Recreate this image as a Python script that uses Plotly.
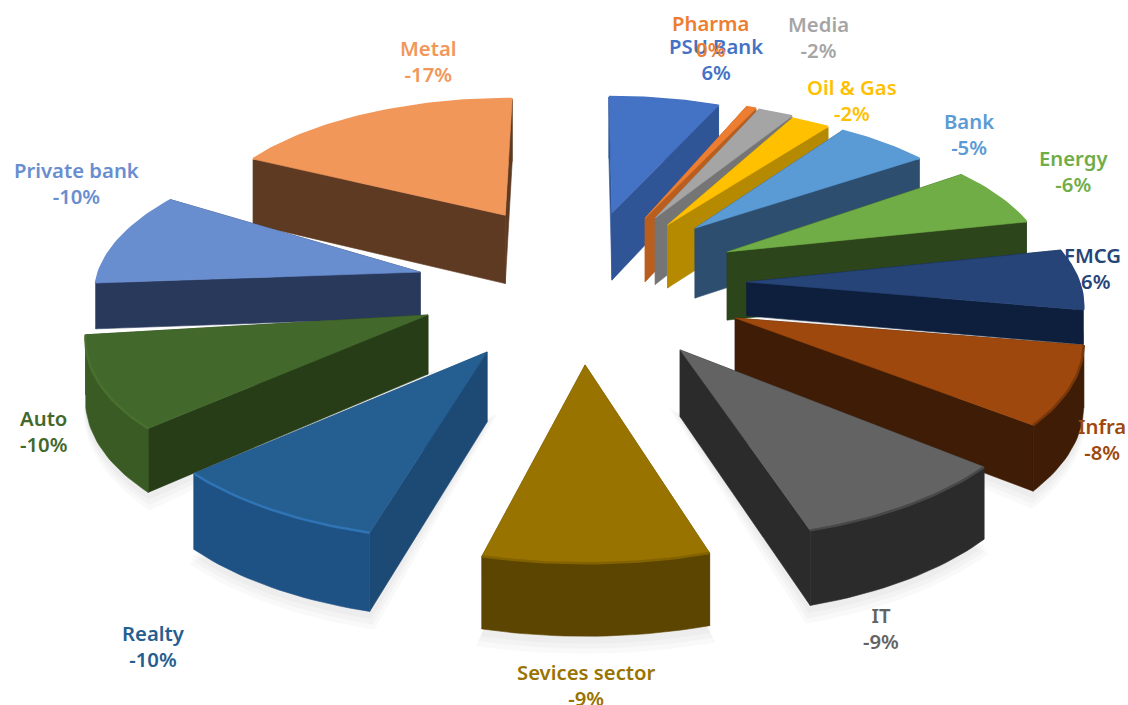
import math
import plotly.graph_objects as go

sectors = ["PSU Bank", "Pharma", "Media", "Oil & Gas", "Bank", "Energy", "FMCG", "Infra", "IT",
           "Sevices sector", "Realty", "Auto", "Private bank", "Metal"]
shares = [6.5, 0.6, 2.1, 2.3, 5.7, 6.5, 6.5, 8.2, 9.1, 8.8, 9, 9.9, 10.2, 17.4]
pct_labels = ["6%", "0%", "-2%", "-2%", "-5%", "-6%", "-6%", "-8%", "-9%", "-9%", "-10%", "-10%", "-10%", "-17%"]

top_colors = ["#4472C4", "#ED7D31", "#A5A5A5", "#FFC000", "#5B9BD5", "#70AD47", "#264478", "#9E480E",
              "#636363", "#997300", "#255E91", "#43682B", "#698ED0", "#F1975A"]
side_colors = ["#2F5597", "#B85F20", "#757575", "#B58900", "#2D4E6E", "#2C451B", "#0D1F3C", "#3F1C05",
               "#2B2B2B", "#5C4500", "#1C4A75", "#263D17", "#28395C", "#5F3A22"]
rim_colors = ["#2F5597", "#B85F20", "#757575", "#B58900", "#2D4E6E", "#2C451B", "#0D1F3C", "#3F1C05",
              "#2B2B2B", "#5C4500", "#1E5285", "#3A5C24", "#28395C", "#5F3A22"]
edge_colors = ["#4472C4", "#ED7D31", "#A5A5A5", "#FFC000", "#5B9BD5", "#70AD47", "#264478", "#7A3709",
               "#484848", "#836300", "#2F74B5", "#4A7030", "#698ED0", "#F1975A"]
label_colors = top_colors
label_x = [716, 710, 818, 852, 969, 1073, 1092, 1102, 881, 586, 153, 43, 76, 428]
label_y = [59, 36, 37, 100, 134, 171, 268, 439, 628, 685, 646, 431, 183, 61]
depths = [71, 67, 70, 66, 73, 70, 34, 60, 64, 61, 67, 58, 46, 72]
mid_angles = [11.6, 23.2, 27, 31.9, 44.6, 65.5, 89, 114.5, 146.6, 178.5, 211.5, 244.9, 284, 328.7]
pull_angles = [9.8, 21.7, 24.8, 31, 40, 60.8, 85.3, 113.8, 144.9, 179.3, 213.9, 248.8, 282.3, 334.4]
pulls = [0.533, 0.525, 0.538, 0.51, 0.54, 0.503, 0.49, 0.483, 0.48, 0.483, 0.488, 0.484, 0.50, 0.563]
radii = [0.94, 0.96, 0.94, 0.95, 0.92, 0.966, 0.99, 1.0, 1.02, 1.04, 1.01, 0.985, 0.965, 0.94]
draw_order = [13, 0, 1, 2, 3, 4, 12, 5, 6, 11, 7, 8, 10, 9]

CX, CY, AX, AY, P = 583, 288, 337, 151, 0.108


def project(X, Y, z=0):
    k = 1 / (1 - P * Y)
    return CX + AX * X * k, CY + AY * Y * k + z * k


wedges = []
for i, v in enumerate(shares):
    half = math.radians(v * 3.6 / 2)
    mid = math.radians(mid_angles[i])
    a0, a1 = mid - half, mid + half
    pa = math.radians(pull_angles[i])
    ox, oy = pulls[i] * math.sin(pa), -pulls[i] * math.cos(pa)
    n = max(4, int((a1 - a0) * 40))
    r = radii[i]
    arc = [(ox + r * math.sin(a0 + (a1 - a0) * t / n), oy - r * math.cos(a0 + (a1 - a0) * t / n)) for t in range(n + 1)]
    wedges.append(dict(i=i, apex=(ox, oy), arc=arc, oy=oy))

fig = go.Figure()


def poly(pts, color, line=None):
    fig.add_trace(go.Scatter(x=[p[0] for p in pts] + [pts[0][0]], y=[p[1] for p in pts] + [pts[0][1]],
                             mode="lines", fill="toself", fillcolor=color,
                             line=dict(color=line or color, width=0.6), hoverinfo="skip", showlegend=False))


# soft ground shadow
for grow, off in [(16, 14), (10, 10), (5, 6)]:
    for w in wedges:
        if w["oy"] > -0.1:
            d = depths[w["i"]]
            pts = [project(w["apex"][0], w["apex"][1], d)] + [project(x, y, d + off) for x, y in w["arc"]]
            cx = sum(p[0] for p in pts) / len(pts)
            cy = sum(p[1] for p in pts) / len(pts)
            s = 1 + grow / 300
            poly([(cx + (a - cx) * s, cy + (b - cy) * s) for a, b in pts], "rgba(0,0,0,0.022)", "rgba(0,0,0,0)")

for idx in draw_order:
    w = wedges[idx]
    i = w["i"]
    d = depths[i]
    apex, arc = w["apex"], w["arc"]
    faces = []
    for a, b, col in [(apex, arc[0], side_colors[i]), (apex, arc[-1], side_colors[i])]:
        q = [project(*a), project(*b), project(*b, d), project(*a, d)]
        faces.append(((a[1] + b[1]) / 2, q, col))
    rim = [project(x, y) for x, y in arc] + [project(x, y, d) for x, y in reversed(arc)]
    faces.append((sum(p[1] for p in arc) / len(arc), rim, rim_colors[i]))
    for _, q, col in sorted(faces, key=lambda f: f[0]):
        poly(q, col)
    top = [project(*apex)] + [project(x, y) for x, y in arc]
    poly(top, top_colors[i])
    edge = [project(x, y) for x, y in arc]
    fig.add_trace(go.Scatter(x=[p[0] for p in edge], y=[p[1] for p in edge], mode="lines",
                             line=dict(color=edge_colors[i], width=2.5), hoverinfo="skip", showlegend=False))

for i, name in enumerate(sectors):
    fig.add_annotation(x=label_x[i], y=label_y[i], text=f"{name}<br>{pct_labels[i]}", showarrow=False,
                       xanchor="center", yanchor="middle",
                       font=dict(family="Noto Sans", size=20.3, color=label_colors[i], weight=600))

fig.update_layout(width=1128, height=705, margin=dict(l=0, r=0, t=0, b=0), paper_bgcolor="white",
                  plot_bgcolor="white", showlegend=False,
                  xaxis=dict(range=[0, 1128], visible=False, fixedrange=True),
                  yaxis=dict(range=[705, 0], visible=False, fixedrange=True))
fig.write_html("out.html", config={"displayModeBar": False},
               post_script="document.body.style.margin='0';")
